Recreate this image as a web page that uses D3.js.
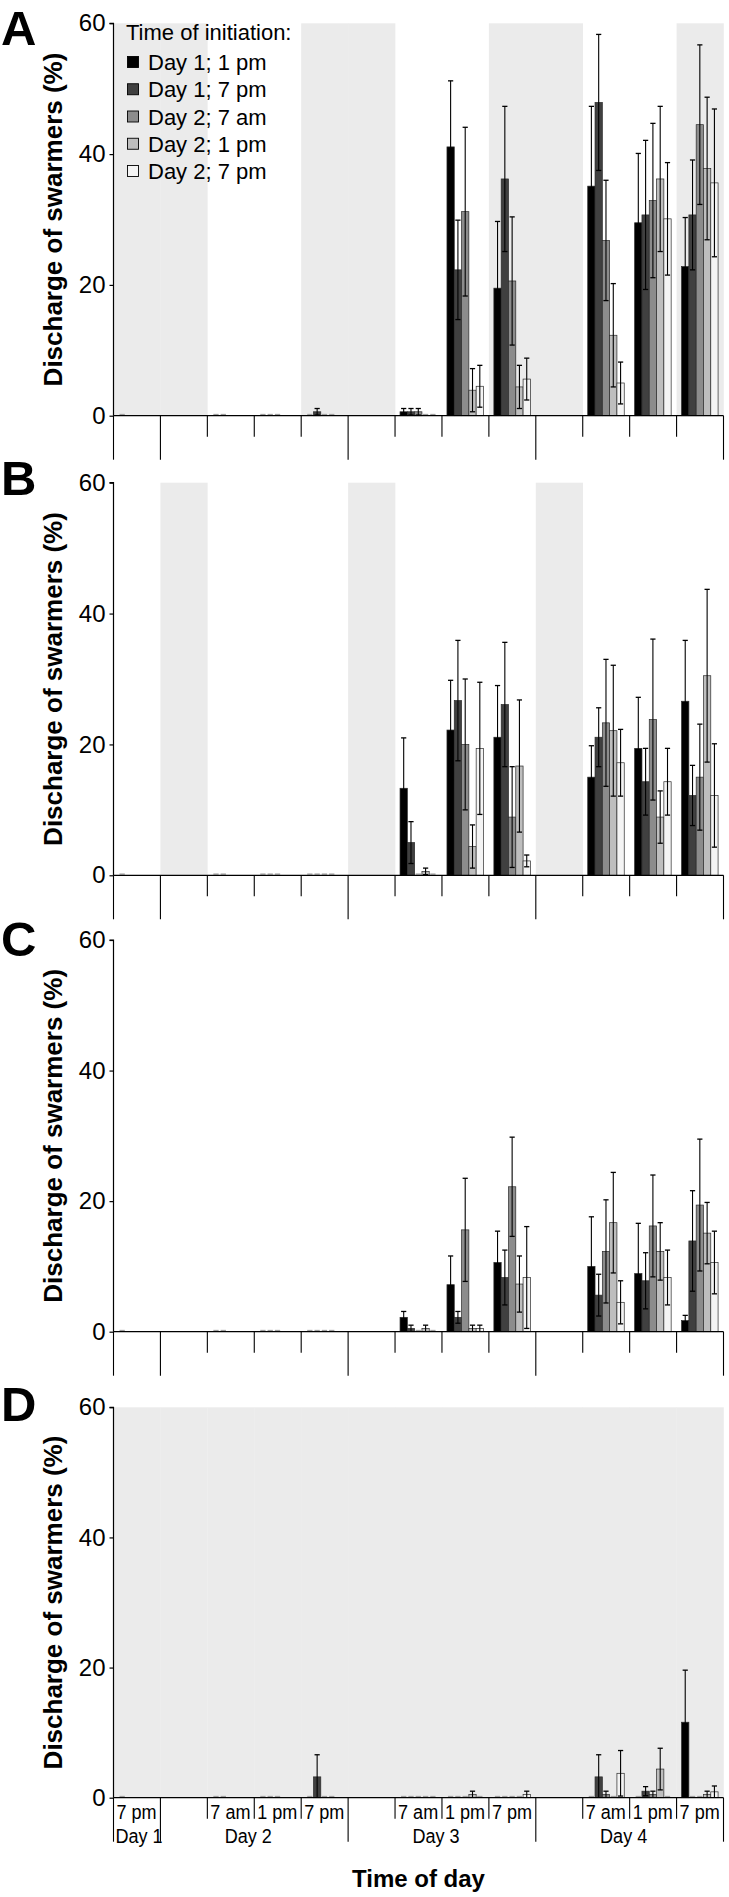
<!DOCTYPE html>
<html>
<head>
<meta charset="utf-8">
<script src="https://cdn.jsdelivr.net/npm/d3@7"></script>
<style>
  html, body { margin: 0; padding: 0; background: #fff; }
  svg { display: block; }
  text { font-family: "Liberation Sans", Arial, Helvetica, sans-serif; }
</style>
</head>
<body>
<svg id="chart" width="729" height="1897"></svg>
<script>
// ---------------- DATA ----------------
const slotLabels = ["7 pm", "", "7 am", "1 pm", "7 pm", "", "7 am", "1 pm", "7 pm", "", "7 am", "1 pm", "7 pm"];
const dayLabels = ["Day 1", "Day 2", "Day 3", "Day 4"];
const daySpans = [[0, 1], [1, 5], [5, 9], [9, 13]];
const seriesNames = ["Day 1; 1 pm", "Day 1; 7 pm", "Day 2; 7 am", "Day 2; 1 pm", "Day 2; 7 pm"];
const yTicks = [0, 20, 40, 60];
const panelLetters = ["A", "B", "C", "D"];
const N = null;

// Panel A
const A_vals = [
  [0, N, 0, 0, 0, N, 0.6, 41.1, 19.5, N, 35.1, 29.5, 22.8],
  [N, N, 0, 0, 0.6, N, 0.6, 22.3, 36.2, N, 47.9, 30.7, 30.7],
  [N, N, N, 0, 0, N, 0.6, 31.2, 20.6, N, 26.8, 32.9, 44.5],
  [N, N, N, N, 0, N, 0, 3.9, 4.4, N, 12.3, 36.2, 37.8],
  [N, N, N, N, N, N, 0, 4.5, 5.6, N, 5.0, 30.1, 35.6]
];
const A_errs = [
  [0, N, 0, 0, 0, N, 0.5, 10.1, 10.2, N, 12.2, 10.6, 7.5],
  [N, N, 0, 0, 0.5, N, 0.5, 7.6, 11.1, N, 10.4, 11.4, 8.4],
  [N, N, N, 0, 0, N, 0.5, 12.9, 9.8, N, 9.2, 11.8, 12.2],
  [N, N, N, N, 0, N, 0, 3.3, 3.3, N, 7.9, 11.1, 10.9],
  [N, N, N, N, N, N, 0, 3.2, 3.2, N, 3.2, 8.6, 11.3]
];
// Panel B
const B_vals = [
  [0, N, 0, 0, 0, N, 13.3, 22.2, 21.1, N, 15.0, 19.4, 26.6],
  [N, N, 0, 0, 0, N, 5.0, 26.7, 26.1, N, 21.1, 14.3, 12.2],
  [N, N, N, 0, 0, N, 0, 20.0, 8.9, N, 23.3, 23.8, 15.0],
  [N, N, N, N, 0, N, 0.6, 4.4, 16.7, N, 22.1, 8.9, 30.5],
  [N, N, N, N, N, N, 0, 19.4, 2.2, N, 17.2, 14.3, 12.2]
];
const B_errs = [
  [0, N, 0, 0, 0, N, 7.7, 7.6, 7.9, N, 4.8, 7.8, 9.3],
  [N, N, 0, 0, 0, N, 3.2, 9.2, 9.5, N, 4.5, 5.1, 4.6],
  [N, N, N, 0, 0, N, 0, 10.0, 7.7, N, 9.7, 12.3, 8.1],
  [N, N, N, N, 0, N, 0.5, 3.3, 10.1, N, 10.0, 4.0, 13.2],
  [N, N, N, N, N, N, 0, 10.1, 0.9, N, 5.1, 5.1, 7.9]
];
// Panel C
const C_vals = [
  [0, N, 0, 0, 0, N, 2.2, 7.2, 10.6, N, 10.0, 8.9, 1.7],
  [N, N, 0, 0, 0, N, 0.5, 2.2, 8.3, N, 5.6, 7.8, 13.9],
  [N, N, N, 0, 0, N, 0, 15.6, 22.2, N, 12.3, 16.2, 19.4],
  [N, N, N, N, 0, N, 0.5, 0.5, 7.3, N, 16.7, 12.3, 15.1],
  [N, N, N, N, N, N, 0, 0.5, 8.3, N, 4.5, 8.3, 10.6]
];
const C_errs = [
  [0, N, 0, 0, 0, N, 0.9, 4.4, 4.8, N, 7.6, 7.7, 0.8],
  [N, N, 0, 0, 0, N, 0.5, 0.9, 4.2, N, 3.2, 4.3, 7.7],
  [N, N, N, 0, 0, N, 0, 7.9, 7.6, N, 7.9, 7.8, 10.1],
  [N, N, N, N, 0, N, 0.5, 0.5, 4.3, N, 7.7, 4.4, 4.7],
  [N, N, N, N, N, N, 0, 0.5, 7.8, N, 3.3, 4.2, 4.8]
];
// Panel D
const D_vals = [
  [0, N, 0, 0, 0, N, 0, 0, 0, N, 0, 0, 11.6],
  [N, N, 0, 0, 3.2, N, 0, 0, 0, N, 3.2, 1.0, 0],
  [N, N, N, 0, 0, N, 0, 0, 0, N, 0.5, 0.5, 0],
  [N, N, N, N, 0, N, 0, 0.5, 0, N, 0, 4.4, 0.5],
  [N, N, N, N, N, N, 0, 0, 0.5, N, 3.75, 0, 0.9]
];
const D_errs = [
  [0, N, 0, 0, 0, N, 0, 0, 0, N, 0, 0, 8.0],
  [N, N, 0, 0, 3.4, N, 0, 0, 0, N, 3.4, 0.7, 0],
  [N, N, N, 0, 0, N, 0, 0, 0, N, 0.5, 0.5, 0],
  [N, N, N, N, 0, N, 0, 0.5, 0, N, 0, 3.2, 0.5],
  [N, N, N, N, N, N, 0, 0, 0.5, N, 3.5, 0, 0.9]
];
// shaded (dark-period) slots per panel
const A_dark = [0, 1, 4, 5, 8, 9, 12];
const B_dark = [1, 5, 9];
const C_dark = [];
const D_dark = [0, 1, 2, 3, 4, 5, 6, 7, 8, 9, 10, 11, 12];

// ---------------- STYLE / LAYOUT ----------------
const fills = ["#000000", "#404040", "#8c8c8c", "#bebebe", "#f4f4f4"];
const shade = "#ebebeb";
const X0 = 113.5, X1 = 723.5;
const panels = [
  { letter: panelLetters[0], vals: A_vals, errs: A_errs, dark: A_dark, yTop: 23.3, yBot: 415.7, letterBase: 44.5 },
  { letter: panelLetters[1], vals: B_vals, errs: B_errs, dark: B_dark, yTop: 482.7, yBot: 875.3, letterBase: 495 },
  { letter: panelLetters[2], vals: C_vals, errs: C_errs, dark: C_dark, yTop: 940, yBot: 1331.7, letterBase: 956 },
  { letter: panelLetters[3], vals: D_vals, errs: D_errs, dark: D_dark, yTop: 1407.3, yBot: 1797.7, letterBase: 1421 }
];

const svg = d3.select("#chart");
const slotIdx = d3.range(13);
const x = d3.scaleBand().domain(slotIdx).range([X0, X1]).paddingInner(0).paddingOuter(0);
const xb = d3.scaleLinear().domain([0, 13]).range([X0, X1]); // slot boundaries
const xs = d3.scaleBand().domain(d3.range(5)).range([5, 5 + 5 * 7.3]);

panels.forEach((p, pi) => {
  const y = d3.scaleLinear().domain([0, 60]).range([p.yBot, p.yTop]);
  const g = svg.append("g");

  // shading
  g.selectAll("rect.shade").data(p.dark).join("rect")
    .attr("x", d => x(d)).attr("y", y(60))
    .attr("width", x.bandwidth() + 0.3).attr("height", y(0) - y(60))
    .attr("fill", shade);

  // bars
  const items = [];
  p.vals.forEach((arr, s) => arr.forEach((v, k) => {
    if (v !== null) items.push({ s, k, v, e: p.errs[s][k] || 0 });
  }));
  const bx = d => x(d.k) + xs(d.s);
  const bw = xs.bandwidth();

  // zero marks
  g.selectAll("line.zero").data(items.filter(d => d.v === 0)).join("line")
    .attr("x1", d => bx(d) + 1).attr("x2", d => bx(d) + bw - 1)
    .attr("y1", y(0) - 1.2).attr("y2", y(0) - 1.2)
    .attr("stroke", "#a0a0a0").attr("stroke-width", 1.3);

  const nz = items.filter(d => d.v > 0);
  g.selectAll("rect.bar").data(nz).join("rect")
    .attr("x", bx).attr("y", d => y(d.v))
    .attr("width", bw).attr("height", d => y(0) - y(d.v))
    .attr("fill", d => fills[d.s]).attr("stroke", "#2a2a2a").attr("stroke-width", 0.7);

  // error bars
  const eb = nz.filter(d => d.e > 0);
  const cx = d => bx(d) + bw / 2;
  g.selectAll("line.err").data(eb).join("line")
    .attr("x1", cx).attr("x2", cx)
    .attr("y1", d => y(d.v + d.e)).attr("y2", d => y(Math.max(0, d.v - d.e)))
    .attr("stroke", "#000").attr("stroke-width", 1.1);
  g.selectAll("line.capT").data(eb).join("line")
    .attr("x1", d => cx(d) - 2.6).attr("x2", d => cx(d) + 2.6)
    .attr("y1", d => y(d.v + d.e)).attr("y2", d => y(d.v + d.e))
    .attr("stroke", "#000").attr("stroke-width", 1.3);
  g.selectAll("line.capB").data(eb.filter(d => d.v - d.e > 0.05)).join("line")
    .attr("x1", d => cx(d) - 2.6).attr("x2", d => cx(d) + 2.6)
    .attr("y1", d => y(d.v - d.e)).attr("y2", d => y(d.v - d.e))
    .attr("stroke", "#000").attr("stroke-width", 1.3);

  // y axis
  const yAxis = d3.axisLeft(y).tickValues(yTicks).tickSize(4).tickPadding(4).tickFormat(d3.format("d"));
  const ya = g.append("g").attr("transform", `translate(${X0},0)`).call(yAxis);
  ya.select(".domain").attr("stroke", "#000").attr("stroke-width", 1.2).attr("d", `M-4,${y(60)}H0V${y(0)}`);
  ya.selectAll(".tick line").attr("stroke", "#000").attr("stroke-width", 1.2);
  ya.selectAll(".tick text").attr("font-size", 24).attr("fill", "#000")
    .attr("font-family", "'Liberation Sans', Arial, sans-serif");

  // x axis baseline
  g.append("line").attr("x1", X0).attr("x2", X1).attr("y1", y(0)).attr("y2", y(0))
    .attr("stroke", "#000").attr("stroke-width", 1.3);

  // slot boundary ticks
  const longSet = new Set([0, 1, 5, 9, 13]);
  g.selectAll("line.bt").data(d3.range(14)).join("line")
    .attr("x1", d => xb(d)).attr("x2", d => xb(d))
    .attr("y1", y(0)).attr("y2", d => y(0) + (longSet.has(d) ? 44 : 21))
    .attr("stroke", "#000").attr("stroke-width", 1.1);

  // y title
  svg.append("text")
    .attr("transform", `translate(53,${(p.yTop + p.yBot) / 2}) rotate(-90)`)
    .attr("text-anchor", "middle").attr("dominant-baseline", "central")
    .attr("font-size", 26).attr("font-weight", "bold").attr("fill", "#000")
    .text("Discharge of swarmers (%)");

  // panel letter
  svg.append("text").attr("x", 1).attr("y", p.letterBase)
    .attr("font-size", 49).attr("font-weight", "bold").attr("fill", "#000")
    .text(p.letter);

  // bottom labels on last panel
  if (pi === 3) {
    g.selectAll("text.sl").data(slotIdx.filter(k => slotLabels[k] !== "")).join("text")
      .attr("transform", k => `translate(${x(k) + 3},${y(0) + 21}) scale(0.86,1)`)
      .attr("font-size", 21).attr("fill", "#000")
      .text(k => slotLabels[k]);
    g.selectAll("text.dl").data(dayLabels).join("text")
      .attr("transform", (d, i) => {
        const [a, b] = daySpans[i];
        if (i === 0) return `translate(${xb(a) + 2},${y(0) + 45}) scale(0.86,1)`;
        return `translate(${(xb(a) + xb(b)) / 2 - 6},${y(0) + 45}) scale(0.86,1)`;
      })
      .attr("text-anchor", (d, i) => i === 0 ? "start" : "middle")
      .attr("font-size", 21).attr("fill", "#000")
      .text(d => d);
    svg.append("text").attr("x", (X0 + X1) / 2).attr("y", 1887)
      .attr("text-anchor", "middle").attr("font-size", 24).attr("font-weight", "bold")
      .attr("fill", "#000").text("Time of day");
  }

  // legend on first panel
  if (pi === 0) {
    const lg = svg.append("g");
    lg.append("text").attr("x", 126).attr("y", 40).attr("font-size", 22).attr("fill", "#000")
      .text("Time of initiation:");
    const ly = d3.scaleLinear().domain([0, 4]).range([62, 171]);
    lg.selectAll("rect").data(seriesNames).join("rect")
      .attr("x", 127.5).attr("y", (d, i) => ly(i) - 5.5).attr("width", 11).attr("height", 11)
      .attr("fill", (d, i) => fills[i]).attr("stroke", "#000").attr("stroke-width", 0.9);
    lg.selectAll("text.li").data(seriesNames).join("text")
      .attr("x", 148).attr("y", (d, i) => ly(i) + 8)
      .attr("font-size", 22).attr("fill", "#000").text(d => d);
  }
});
</script>
</body>
</html>
